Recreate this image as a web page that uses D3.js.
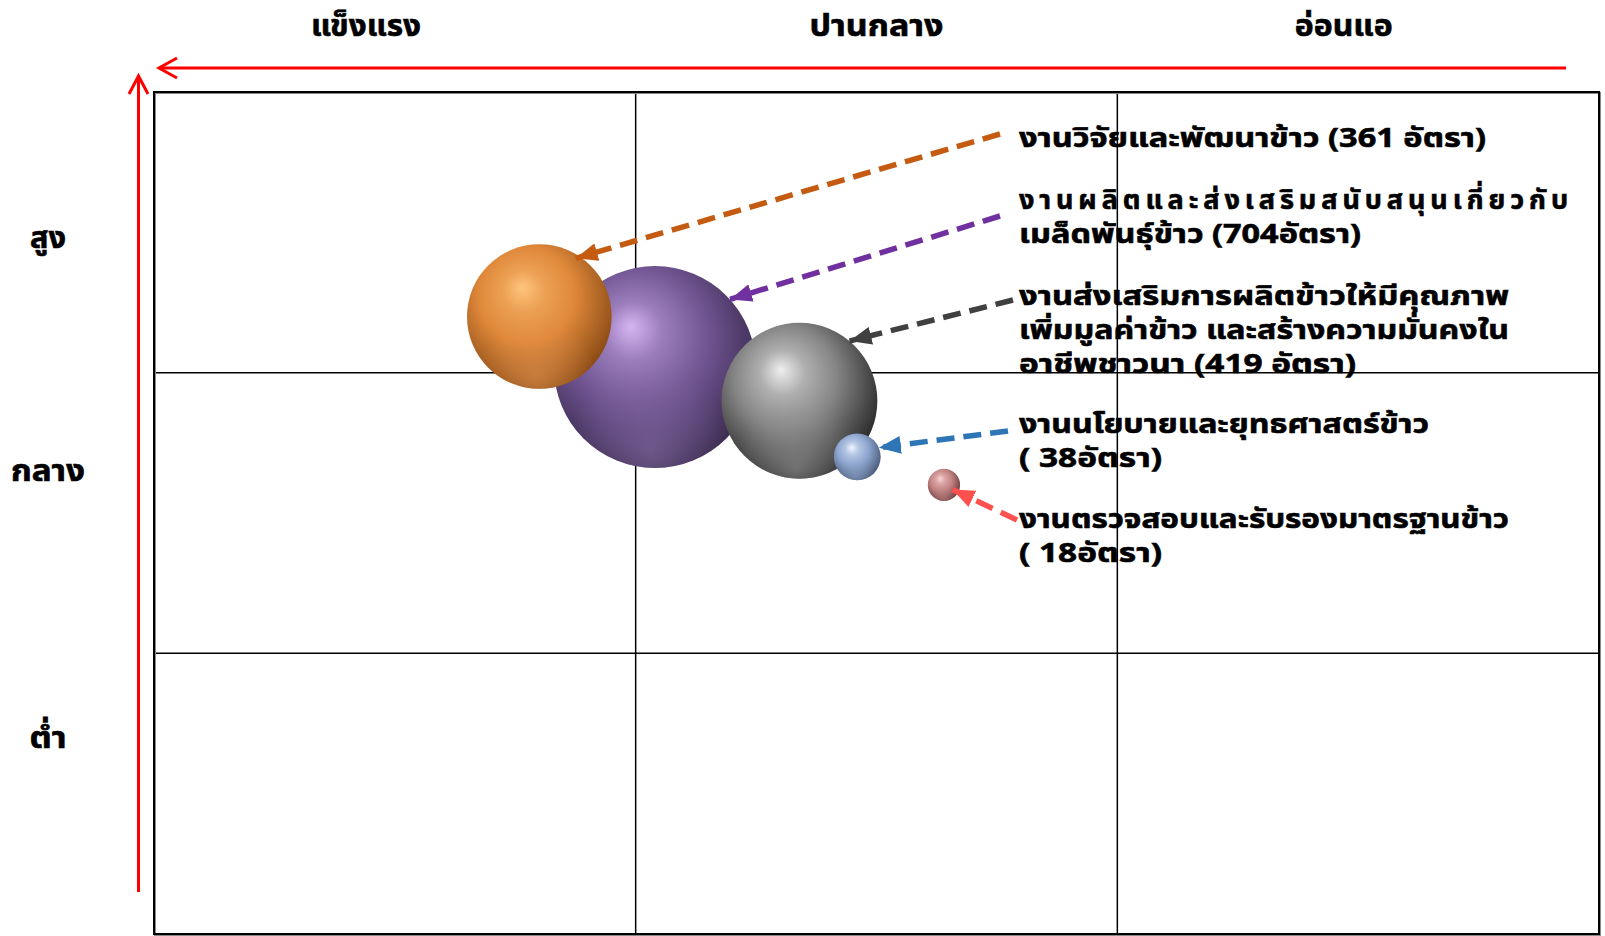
<!DOCTYPE html>
<html>
<head>
<meta charset="utf-8">
<script src="https://cdn.jsdelivr.net/npm/d3@7"></script>
<style>
  body { margin: 0; background: #fff; }
  svg { display: block; }
  text { font-family: Tahoma, "Noto Sans Thai", "Noto Sans", sans-serif; font-weight: bold; fill: #000;
         stroke: #000; stroke-width: 0.6px; }
</style>
</head>
<body>
<div id="vis"></div>
<script>
const WIDTH = 1605;
const HEIGHT = 936;

// data
const colTitles = ['แข็งแรง', 'ปานกลาง', 'อ่อนแอ'];
const colTitlePos = [0.44, 1.5, 2.47];
const rowTitles = ['สูง', 'กลาง', 'ต่ำ'];
const rowTitlePos = [2.48, 1.65, 0.70];

const units = [
    ['งานวิจัยและพัฒนาข้าว (361 อัตรา)'],
    ['งานผลิตและส่งเสริมสนับสนุนเกี่ยวกับ', 'เมล็ดพันธุ์ข้าว (704อัตรา)'],
    ['งานส่งเสริมการผลิตข้าวให้มีคุณภาพ', 'เพิ่มมูลค่าข้าว และสร้างความมั่นคงใน', 'อาชีพชาวนา (419 อัตรา)'],
    ['งานนโยบายและยุทธศาสตร์ข้าว', '( 38อัตรา)'],
    ['งานตรวจสอบและรับรองมาตรฐานข้าว', '( 18อัตรา)']
];
const staff = [361, 704, 419, 38, 18];
const strength = [0.80, 1.04, 1.34, 1.46, 1.64];   // 0 = แข็งแรง ... 3 = อ่อนแอ
const priority = [2.20, 2.02, 1.90, 1.70, 1.60];   // 0 = ต่ำ ... 3 = สูง

// colours (light, mid, dark, rim)
const sphereColors = [
    ['#ffc47c', '#e0883a', '#7e4210', '#e39552'],
    ['#d6b4f2', '#745896', '#2f2242', '#8a70a8'],
    ['#eeeeee', '#858585', '#1c1c1c', '#9a9a9a'],
    ['#eef6ff', '#8ea6d0', '#3e4e6c', '#8ea4c8'],
    ['#fad6d6', '#c48484', '#5e3232', '#c08484']
];
const arrowColors = ['#c55a11', '#7030a0', '#404040', '#2e75b6', '#ff5050'];

// annotation layout
const labelX = 1019;
const labelY = [147, 209, 305, 433, 528];
const lineGap = 34;
const lineWidths = [[467], [549, 342], [490, 490, 337], [410, 143], [490, 143]];
const colTitleWidths = [110, 134, 98];
const rowTitleWidths = [36, 74, 37];
const arrowStart = [[1000, 134], [1000, 216], [1013, 300], [1008, 431], [1017, 520]];
const tipAngle = [-58, -42, -50, -23, 28];
const tipFrac = [0.95, 1.0, 1.0, 1.0, 0.6];

const x = d3.scaleLinear().domain([0, 3]).range([154, 1599]);
const y = d3.scaleLinear().domain([0, 3]).range([934, 92]);
const r = d3.scaleSqrt().domain([0, 704]).range([0, 101]);

const svg = d3.select('#vis').append('svg')
    .attr('width', WIDTH)
    .attr('height', HEIGHT)
    .style('background', '#fff');

const defs = svg.append('defs');
const mix = (a, b, t) => d3.interpolateRgb(a, b)(t);

sphereColors.forEach((c, i) => {
    const g = defs.append('radialGradient')
        .attr('id', 'sph' + i)
        .attr('cx', '0.44').attr('cy', '0.40').attr('r', '0.66')
        .attr('fx', '0.38').attr('fy', '0.30');
    g.append('stop').attr('offset', '0%').attr('stop-color', c[0]);
    g.append('stop').attr('offset', '22%').attr('stop-color', mix(c[0], c[1], 0.6));
    g.append('stop').attr('offset', '50%').attr('stop-color', c[1]);
    g.append('stop').attr('offset', '78%').attr('stop-color', mix(c[1], c[2], 0.55));
    g.append('stop').attr('offset', '100%').attr('stop-color', c[2]);

    // soft bottom reflection
    const b = defs.append('radialGradient')
        .attr('id', 'rim' + i)
        .attr('cx', '0.48').attr('cy', '0.92').attr('r', '0.42');
    b.append('stop').attr('offset', '0%').attr('stop-color', c[3]).attr('stop-opacity', 0.55);
    b.append('stop').attr('offset', '100%').attr('stop-color', c[3]).attr('stop-opacity', 0);
});

arrowColors.forEach((c, i) => {
    defs.append('marker')
        .attr('id', 'arr' + i)
        .attr('markerUnits', 'userSpaceOnUse')
        .attr('viewBox', '0 0 22 18')
        .attr('refX', 22).attr('refY', 9)
        .attr('markerWidth', 22).attr('markerHeight', 18)
        .attr('orient', 'auto')
        .append('path')
        .attr('d', 'M0,0 L22,9 L0,18 Z')
        .attr('fill', c);
});

// red direction arrows
const axisArrows = svg.append('g').attr('stroke', '#ff0000').attr('stroke-width', 3).attr('fill', 'none');
axisArrows.append('line').attr('x1', 1566).attr('y1', 68).attr('x2', x(0) + 5).attr('y2', 68);
axisArrows.append('path').attr('d', `M${x(0) + 23},58 L${x(0) + 5},68 L${x(0) + 23},78`);
axisArrows.append('line').attr('x1', 138.5).attr('y1', 892).attr('x2', 138.5).attr('y2', y(3) - 16);
axisArrows.append('path').attr('d', `M129,${y(3) + 2} L138.5,${y(3) - 16} L148,${y(3) + 2}`);

// grid
const grid = svg.append('g').attr('stroke', '#000').attr('stroke-width', 1.5);
[1, 2].forEach(v => {
    grid.append('line').attr('x1', x(v)).attr('x2', x(v)).attr('y1', y(3)).attr('y2', y(0));
    grid.append('line').attr('x1', x(0)).attr('x2', x(3)).attr('y1', y(v)).attr('y2', y(v));
});
svg.append('rect')
    .attr('x', x(0) + 1).attr('y', y(3) + 1)
    .attr('width', x(3) - x(0)).attr('height', y(0) - y(3))
    .attr('fill', 'none').attr('stroke', '#888').attr('stroke-width', 2);
svg.append('rect')
    .attr('x', x(0)).attr('y', y(3))
    .attr('width', x(3) - x(0)).attr('height', y(0) - y(3))
    .attr('fill', 'none').attr('stroke', '#000').attr('stroke-width', 2);

// titles
svg.append('g').selectAll('text')
    .data(colTitles)
    .join('text')
    .attr('x', (d, i) => x(colTitlePos[i]) - colTitleWidths[i] / 2)
    .attr('y', 36)
    .attr('textLength', (d, i) => colTitleWidths[i])
    .attr('lengthAdjust', 'spacingAndGlyphs')
    .style('font-size', '30px')
    .text(d => d);

svg.append('g').selectAll('text')
    .data(rowTitles)
    .join('text')
    .attr('x', (d, i) => 48 - rowTitleWidths[i] / 2)
    .attr('y', (d, i) => y(rowTitlePos[i]) + 10)
    .attr('textLength', (d, i) => rowTitleWidths[i])
    .attr('lengthAdjust', 'spacingAndGlyphs')
    .style('font-size', '30px')
    .text(d => d);

// bubbles, biggest first so small ones sit on top
const data = staff.map((v, i) => ({i, v, sx: strength[i], sy: priority[i]}));
const order = data.slice().sort((a, b) => b.v - a.v);

const bubbles = svg.append('g').selectAll('g')
    .data(order)
    .join('g')
    .attr('transform', d => `translate(${x(d.sx)},${y(d.sy)})`);
bubbles.append('circle').attr('r', d => r(d.v)).attr('fill', d => `url(#sph${d.i})`);
bubbles.append('circle').attr('r', d => r(d.v)).attr('fill', d => `url(#rim${d.i})`);

// leaders
svg.append('g').selectAll('line')
    .data(data)
    .join('line')
    .attr('x1', d => arrowStart[d.i][0])
    .attr('y1', d => arrowStart[d.i][1])
    .attr('x2', d => x(d.sx) + Math.cos(tipAngle[d.i] * Math.PI / 180) * r(d.v) * tipFrac[d.i])
    .attr('y2', d => y(d.sy) + Math.sin(tipAngle[d.i] * Math.PI / 180) * r(d.v) * tipFrac[d.i])
    .attr('stroke', d => arrowColors[d.i])
    .attr('stroke-width', 5.5)
    .attr('stroke-dasharray', '18,9')
    .attr('marker-end', d => `url(#arr${d.i})`);

// labels, one text per line
const lines = [];
data.forEach(d => units[d.i].forEach((t, j) => lines.push({t, i: d.i, j})));

svg.append('g').selectAll('text')
    .data(lines)
    .join('text')
    .attr('x', labelX)
    .attr('y', d => labelY[d.i] + d.j * lineGap)
    .attr('textLength', d => lineWidths[d.i][d.j])
    .attr('lengthAdjust', d => (d.i === 1 && d.j === 0) ? 'spacing' : 'spacingAndGlyphs')
    .style('font-size', '27px')
    .text(d => d.t);
</script>
</body>
</html>
